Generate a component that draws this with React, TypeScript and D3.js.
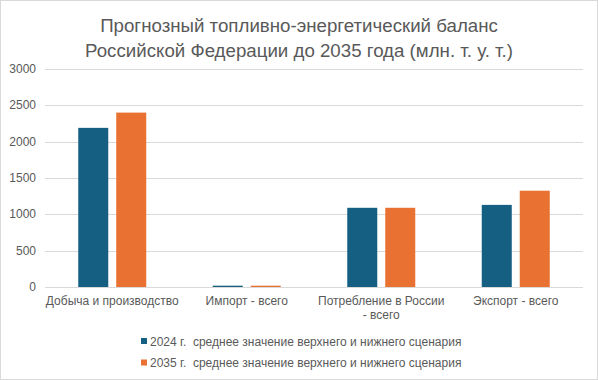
import React from "react";
import * as d3 from "d3";

const categories: string[][] = [
  ["Добыча и производство"],
  ["Импорт - всего"],
  ["Потребление в России", "- всего"],
  ["Экспорт - всего"],
];
const seriesNames = [
  "2024 г.  среднее значение верхнего и нижнего сценария",
  "2035 г.  среднее значение верхнего и нижнего сценария",
];
const values2024 = [2190, 18, 1090, 1130];
const values2035 = [2400, 18, 1090, 1325];
const yTicks = [0, 500, 1000, 1500, 2000, 2500, 3000];
const titleLines = [
  "Прогнозный топливно-энергетический баланс",
  "Российской Федерации до 2035 года (млн. т. у. т.)",
];
const colors = ["#156082", "#E97132"];

const W = 598;
const H = 380;
const FONT = "'Liberation Sans', Arial, sans-serif";
const TXT = "#595959";

export default function App() {
  const left = 45, right = 583, top = 69, bottom = 287;
  const catIdx = categories.map((_, i) => String(i));
  const x0 = d3.scaleBand().domain(catIdx).range([left, right]).padding(0);
  const y = d3.scaleLinear().domain([0, 3000]).range([bottom, top]);
  const series = [values2024, values2035];
  const sIdx = ["0", "1"];

  return (
    <svg width={W} height={H} style={{ position: "absolute", left: 0, top: 0, background: "#fff" }} fontFamily={FONT}>
      <rect x={0.5} y={0.5} width={W - 1} height={H - 1} fill="#fff" stroke="#d9d9d9" />
      {titleLines.map((t, i) => (
        <text key={i} x={299} y={32 + i * 25} textAnchor="middle" fontSize={18.7} fill={TXT}>
          {t}
        </text>
      ))}
      {yTicks.map((t) => (
        <g key={t}>
          <line x1={left} x2={right} y1={Math.round(y(t)) + 0.5} y2={Math.round(y(t)) + 0.5} stroke="#d9d9d9" strokeWidth={1} />
          <text x={36} y={y(t) + 4} textAnchor="end" fontSize={12} fill={TXT}>
            {t}
          </text>
        </g>
      ))}
      {catIdx.map((c, ci) => {
        const cx = (x0(c) as number) + x0.bandwidth() / 2;
        const x1 = d3.scaleBand().domain(sIdx).range([cx - 34, cx + 34]).paddingInner(0.21);
        return (
          <g key={c}>
            {series.map((vals, si) => (
              <rect
                key={si}
                x={x1(String(si))}
                y={y(vals[ci])}
                width={x1.bandwidth()}
                height={bottom - y(vals[ci])}
                fill={colors[si]}
              />
            ))}
            {categories[ci].map((ln, li) => (
              <text key={li} x={cx} y={305 + li * 14} textAnchor="middle" fontSize={12} fill={TXT}>
                {ln}
              </text>
            ))}
          </g>
        );
      })}
      {seriesNames.map((n, i) => (
        <g key={i}>
          <rect x={141} y={338 + i * 21.5} width={6} height={6} fill={colors[i]} />
          <text x={150} y={345.5 + i * 21.5} fontSize={12} fill={TXT} style={{ whiteSpace: "pre" }}>
            {n}
          </text>
        </g>
      ))}
    </svg>
  );
}
